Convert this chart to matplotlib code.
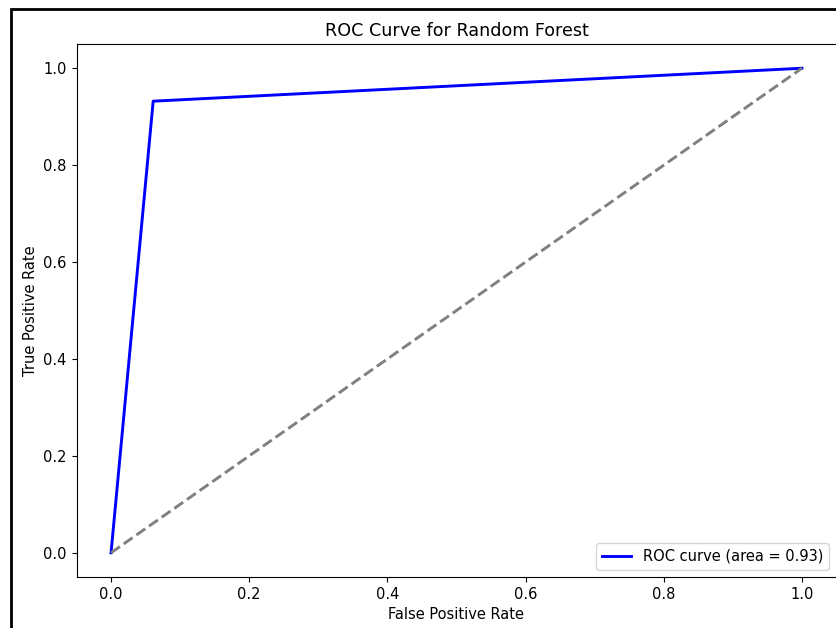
import matplotlib.pyplot as plt
from matplotlib.patches import Rectangle

# Points of the ROC curve
fpr = [0.0, 0.061, 1.0]
tpr = [0.0, 0.932, 1.0]
chance = [0.0, 1.0]
roc_auc = 0.93

plt.rcParams['font.size'] = 10.5
plt.rcParams['axes.titlesize'] = 12.6

W, H = 836, 628
fig = plt.figure(figsize=(W / 100, H / 100), dpi=100)

# frame of the screenshot (left and top edges visible)
fig.patches.append(Rectangle((10.5 / W, -0.1), 1.2, (H - 9.5) / H + 0.1,
                             transform=fig.transFigure, fill=False,
                             edgecolor='black', linewidth=2))

ax = fig.add_axes([76.5 / W, 51 / H, 760 / W, 533 / H])
ax.plot(fpr, tpr, color='blue', lw=2.1, label=f'ROC curve (area = {roc_auc:.2f})')
ax.plot(chance, chance, color='gray', lw=2.1, linestyle='--')
ax.set_xlabel('False Positive Rate')
ax.set_ylabel('True Positive Rate')
ax.set_title('ROC Curve for Random Forest')
ax.legend(loc='lower right')

plt.savefig('out.png', dpi=100)
plt.close()
